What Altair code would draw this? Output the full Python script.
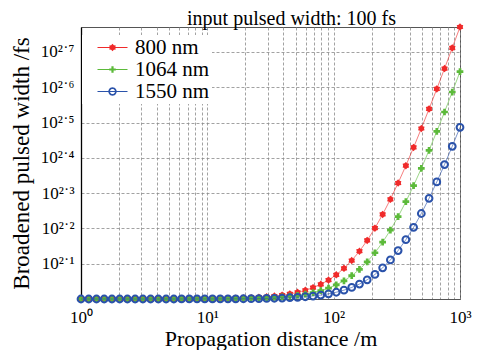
import math
import altair as alt
import pandas as pd

# ---------------- data ----------------
distance_m = [1.0, 1.151, 1.326, 1.526, 1.758, 2.024, 2.330, 2.683, 3.089, 3.556,
              4.095, 4.715, 5.429, 6.251, 7.197, 8.286, 9.541, 10.985, 12.649, 14.563,
              16.768, 19.307, 22.230, 25.595, 29.471, 33.932, 39.069, 44.984, 51.795, 59.636,
              68.665, 79.060, 91.030, 104.81, 120.68, 138.95, 159.99, 184.21, 212.09, 244.21,
              281.19, 323.75, 372.76, 429.19, 494.17, 568.99, 655.13, 754.31, 868.51, 1000.0]

width_800 = [100.00, 100.00, 100.00, 100.00, 100.01, 100.01, 100.01, 100.01, 100.02, 100.02,
             100.03, 100.04, 100.05, 100.07, 100.09, 100.12, 100.15, 100.20, 100.27, 100.36,
             100.47, 100.63, 100.83, 101.10, 101.46, 101.93, 102.55, 103.36, 104.43, 105.84,
             107.68, 110.06, 113.14, 117.10, 122.16, 128.55, 136.57, 146.53, 158.76, 173.66,
             191.64, 213.15, 238.68, 268.82, 304.21, 345.59, 393.80, 449.81, 514.75, 589.93]

width_1064 = [100.00, 100.00, 100.00, 100.00, 100.00, 100.00, 100.01, 100.01, 100.01, 100.01,
              100.02, 100.02, 100.03, 100.04, 100.05, 100.06, 100.08, 100.11, 100.15, 100.20,
              100.26, 100.34, 100.45, 100.60, 100.80, 101.06, 101.40, 101.85, 102.44, 103.22,
              104.25, 105.60, 107.36, 109.65, 112.62, 116.43, 121.31, 127.48, 135.22, 144.86,
              156.73, 171.19, 188.67, 209.60, 234.48, 263.88, 298.43, 338.83, 385.93, 440.68]

width_1550 = [100.00, 100.00, 100.00, 100.00, 100.00, 100.00, 100.00, 100.00, 100.00, 100.01,
              100.01, 100.01, 100.01, 100.02, 100.02, 100.03, 100.04, 100.05, 100.07, 100.09,
              100.12, 100.16, 100.21, 100.27, 100.36, 100.48, 100.64, 100.85, 101.13, 101.48,
              101.96, 102.59, 103.42, 104.51, 105.94, 107.81, 110.23, 113.36, 117.39, 122.52,
              129.01, 137.13, 147.22, 159.61, 174.69, 192.87, 214.61, 240.42, 270.88, 306.62]

series_names = ["800 nm", "1064 nm", "1550 nm"]
series_colors = ["#f02a2a", "#5cba3a", "#2a52aa"]

x_tick_values = [m * 10 ** k for k in range(3) for m in range(1, 10)] + [1000]
x_major_values = [1, 10, 100, 1000]
x_major_labels = ["10⁰", "10¹", "10²", "10³"]

y_tick_exponents = [2.0, 2.1, 2.2, 2.3, 2.4, 2.5, 2.6, 2.7]
y_tick_labels = ["", "10²˙¹", "10²˙²", "10²˙³", "10²˙⁴", "10²˙⁵", "10²˙⁶", "10²˙⁷"]

title_text = "input pulsed width: 100 fs"
x_title = "Propagation distance /m"
y_title = "Broadened pulsed width /fs"

FONT = "Liberation Serif"

# ---------------- table ----------------
rows = []
for name, vals in zip(series_names, [width_800, width_1064, width_1550]):
    for d, v in zip(distance_m, vals):
        rows.append({"distance": d, "width": v, "series": name})
df = pd.DataFrame(rows)

# ---------------- marker shapes ----------------
def poly(pts):
    return "M" + "L".join(f"{x:.3f},{y:.3f}" for x, y in pts) + "Z"

def hexagram(r, inner=1 / math.sqrt(3)):
    pts = []
    for i in range(12):
        ang = math.radians(-90 + 30 * i)
        rr = r if i % 2 == 0 else r * inner
        pts.append((rr * math.cos(ang), rr * math.sin(ang)))
    return poly(pts)

def plus(a, t):
    return poly([(-a, -t), (-t, -t), (-t, -a), (t, -a), (t, -t), (a, -t),
                 (a, t), (t, t), (t, a), (-t, a), (-t, t), (-a, t)])

def circle(r, ccw=False, n=24):
    pts = []
    for i in range(n):
        ang = 2 * math.pi * i / n
        if ccw:
            ang = -ang
        pts.append((r * math.cos(ang), r * math.sin(ang)))
    return poly(pts)

seg = poly([(-1.5, -0.045), (1.5, -0.045), (1.5, 0.045), (-1.5, 0.045)])
legend_paths = [
    seg + hexagram(0.38, 0.72),
    seg + plus(0.33, 0.11),
    seg + circle(0.42) + circle(0.25, ccw=True),
]
data_hexagram = hexagram(1.0, 0.72)

# ---------------- scales / axes ----------------
def x_label_expr():
    parts = [f"datum.value == {v} ? '{lab}'" for v, lab in zip(x_major_values, x_major_labels)]
    return " : ".join(parts) + " : ''"

def y_label_expr():
    parts = [f"abs(datum.value - {10 ** e:.4f}) < 0.01 ? '{lab}'"
             for e, lab in zip(y_tick_exponents, y_tick_labels) if lab]
    return " : ".join(parts) + " : ''"

xscale = alt.Scale(type="log", domain=[1, 1000], nice=False)
yscale = alt.Scale(type="log", domain=[100, max(width_800)], nice=False)
color_scale = alt.Scale(domain=series_names, range=series_colors)

xaxis = alt.Axis(values=x_tick_values, labelExpr=x_label_expr(), ticks=False,
                 grid=True, labelFlush=False, labelOverlap=False, labelPadding=10,
                 title=x_title, titlePadding=3, titleFontSize=22, domainColor="#555555")
yaxis = alt.Axis(values=[10 ** e for e in y_tick_exponents], labelExpr=y_label_expr(),
                 ticks=False, grid=True, labelFlush=False, labelOverlap=False,
                 labelPadding=7, title=y_title, titlePadding=7, titleFontSize=23,
                 domainColor="black", domainWidth=1.3)

X = alt.X("distance:Q", scale=xscale, axis=xaxis)
Y = alt.Y("width:Q", scale=yscale, axis=yaxis)

base = alt.Chart(df)

leg = alt.Legend(title=None, orient="none", legendX=1, legendY=8, fillColor="white",
                 padding=2, rowPadding=0, symbolSize=400, symbolStrokeWidth=0,
                 symbolOffset=18, labelOffset=12, labelFont=FONT, labelFontSize=21,
                 labelColor="black", labelLimit=400, symbolOpacity=1)
legend_layer = base.transform_filter("false").mark_point(filled=True, opacity=1, size=400).encode(
    x=X, y=Y,
    color=alt.Color("series:N", scale=color_scale, legend=leg),
    shape=alt.Shape("series:N", scale=alt.Scale(domain=series_names, range=legend_paths), legend=leg),
)

layers = [legend_layer]
marker_specs = [
    dict(shape=data_hexagram, filled=True, size=56, strokeWidth=0),
    dict(shape="cross", filled=True, size=45, strokeWidth=0),
    dict(shape="circle", filled=False, size=46, strokeWidth=2),
]
for name, col, spec in zip(series_names, series_colors, marker_specs):
    sub = base.transform_filter(alt.datum.series == name)
    layers.append(sub.mark_line(strokeWidth=1, opacity=0.6, color=col).encode(x=X, y=Y))
    layers.append(sub.mark_point(color=col, opacity=1, **spec).encode(x=X, y=Y))

chart = alt.layer(*layers).properties(
    width=379, height=272,
    title=alt.Title(title_text, font=FONT, fontSize=20, fontWeight="normal", color="black",
                    anchor="middle", dx=21, dy=7, offset=1),
    autosize=alt.AutoSizeParams(type="none"),
    padding={"left": 73, "top": 19, "right": 20, "bottom": 51},
).configure(
    font=FONT,
    style={"guide-label": {"font": FONT, "fill": "black"}},
).configure_axis(
    labelFont=FONT, labelFontSize=17, labelColor="black",
    titleFont=FONT, titleFontWeight="normal", titleColor="black",
    gridColor="#8a8a8a", gridDash=[3, 2], gridWidth=0.8, gridOpacity=1,
).configure_legend(
    labelFont=FONT, labelFontSize=21, labelColor="black",
).configure_view(stroke="#555555", strokeWidth=1)

chart.save("out.html", embed_options={"renderer": "svg", "actions": False})
